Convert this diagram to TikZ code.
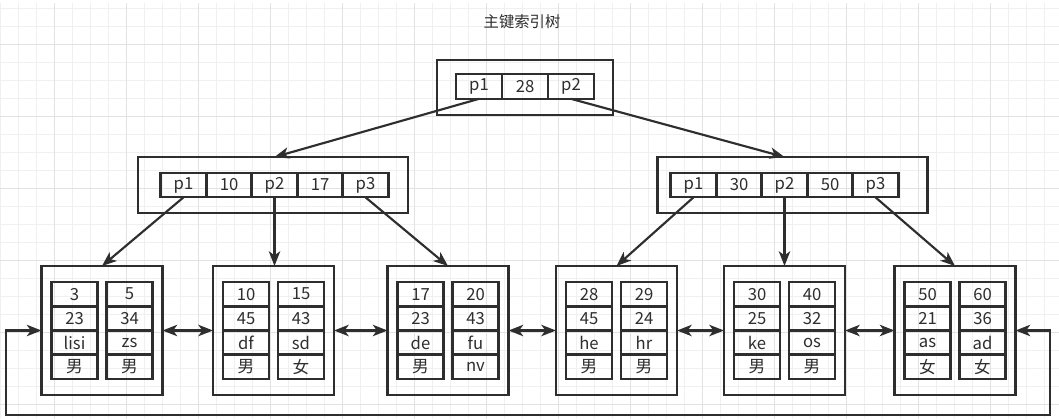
\documentclass[tikz,border=0pt]{standalone}
\usepackage{fontspec}
\setmainfont{Noto Sans CJK SC}
\usetikzlibrary{
  arrows.meta,
  calc
}
\definecolor{ink}{HTML}{2E2E2E}
\definecolor{gridminor}{HTML}{F0F0F0}
\definecolor{gridmajor}{HTML}{E2E2E2}
\tikzset{
  % Shared values that are assigned to different keys in the styles below.
  globals/line width/.initial=1.6pt,
  globals/cell width/.initial=34.5pt,
  globals/cell height/.initial=18.5pt,
%
  % For the arrow heads.
  linkhead/.tip={Stealth[length=11pt,width=8.5pt,inset=3pt]},
%
  % For the faint background grid.
  grid minor/.style={
    draw=gridminor,
    line width=0.75pt},
  grid major/.style={
    draw=gridmajor,
    line width=0.75pt},
%
  % For the frame round each tree node.
  frame/.style={
    draw=ink,
    line width=\pgfkeysvalueof{/tikz/globals/line width},
    inner sep=0pt,
    outer sep=0pt},
%
  % For a single key, pointer or field.
  cell/.style={
    draw=ink,
    line width=\pgfkeysvalueof{/tikz/globals/line width},
    minimum width=\pgfkeysvalueof{/tikz/globals/cell width},
    minimum height=\pgfkeysvalueof{/tikz/globals/cell height},
    inner sep=0pt,
    outer sep=0pt,
    text=ink,
    font=\fontsize{12.5pt}{14pt}\selectfont},
%
  % For pointers between levels.
  link/.style={
    draw=ink,
    line width=\pgfkeysvalueof{/tikz/globals/line width},
    -linkhead},
%
  % For links between neighbouring leaves.
  both link/.style={
    link,
    linkhead-linkhead},
%
  % For the caption.
  caption/.style={
    text=ink,
    font=\fontsize{11.5pt}{14pt}\selectfont}
}

\begin{document}
\begin{tikzpicture}[x=0.75pt,y=-0.75pt]
  \useasboundingbox (0,0) rectangle (1059,419);
  \fill[white] (0,0) rectangle (1059,419);

  \foreach \x in {0,18,...,1058}
    \draw[grid minor] (\x,3) -- (\x,419);
  \foreach \y in {8,26,...,418}
    \draw[grid minor] (0,\y) -- (1059,\y);
  \foreach \x in {54,126,...,1058}
    \draw[grid major] (\x,3) -- (\x,419);
  \foreach \y in {44,116,...,418}
    \draw[grid major] (0,\y) -- (1059,\y);

  \node[caption] (title) at (522,22) {主键索引树};

  % Root.
  \node[frame, minimum width=132pt, minimum height=41.25pt] (root) at (525,87.5) {};
  \foreach \txt [count=\i] in {p1,28,p2}
    \node[cell] (root-\i) at ({525+(\i-2)*46},86.5) {\txt};

  % Second level.
  \foreach \name/\cx/\ix/\txts in {lm/273/274.5/{p1,10,p2,17,p3},
                                   rm/792.5/784.5/{p1,30,p2,50,p3}}
    {\node[frame, minimum width=202.5pt, minimum height=42pt] (\name) at (\cx,185) {};
     \foreach \txt [count=\i] in \txts
       \node[cell] (\name-\i) at ({\ix+(\i-3)*45.5},185) {\txt};}

  % Leaves, fields row by row.
  \def\leaves{
    102/{3,5,23,34,lisi,zs,男,男},
    273.5/{10,15,45,43,df,sd,男,女},
    448/{17,20,23,43,de,fu,男,nv},
    616.5/{28,29,45,24,he,hr,男,男},
    784.5/{30,40,25,32,ke,os,男,男},
    955/{50,60,21,36,as,ad,女,女}}

  \foreach \cx/\fields [count=\k] in \leaves
    {\node[frame, minimum width=90.75pt, minimum height=96.75pt] (leaf\k) at (\cx,330.5) {};
     \foreach \txt [count=\j,
                    evaluate=\j as \row using int((\j-1)/2),
                    evaluate=\j as \col using {int(mod(\j-1,2))}] in \fields
       \node[cell] (leaf\k-\j) at ({\cx+(2*\col-1)*27.5},{330.5+(\row-1.5)*24.25}) {\txt};}

  \draw[link] (root-1.south) -- (lm-3 |- lm.north);
  \draw[link] (root-3.south) -- (rm-3 |- rm.north);

  \draw[link] (lm-1.south) -- (leaf1.north);
  \draw[link] (lm-3.south) -- (lm-3 |- leaf2.north);
  \draw[link] (lm-5.south) -- (leaf3.north);
  \draw[link] (rm-1.south) -- (leaf4.north);
  \draw[link] (rm-3.south) -- (rm-3 |- leaf5.north);
  \draw[link] (rm-5.south) -- (leaf6.north);

  \foreach \a [evaluate=\a as \b using int(\a+1)] in {1,...,5}
    \draw[both link] (leaf\a.east) -- (leaf\b.west);

  \coordinate (loop r) at (1050,415);
  \coordinate (loop l) at (6,415);
  \draw[both link] (leaf6.east) -| (loop r) -- (loop l) |- (leaf1.west);
\end{tikzpicture}
\end{document}
